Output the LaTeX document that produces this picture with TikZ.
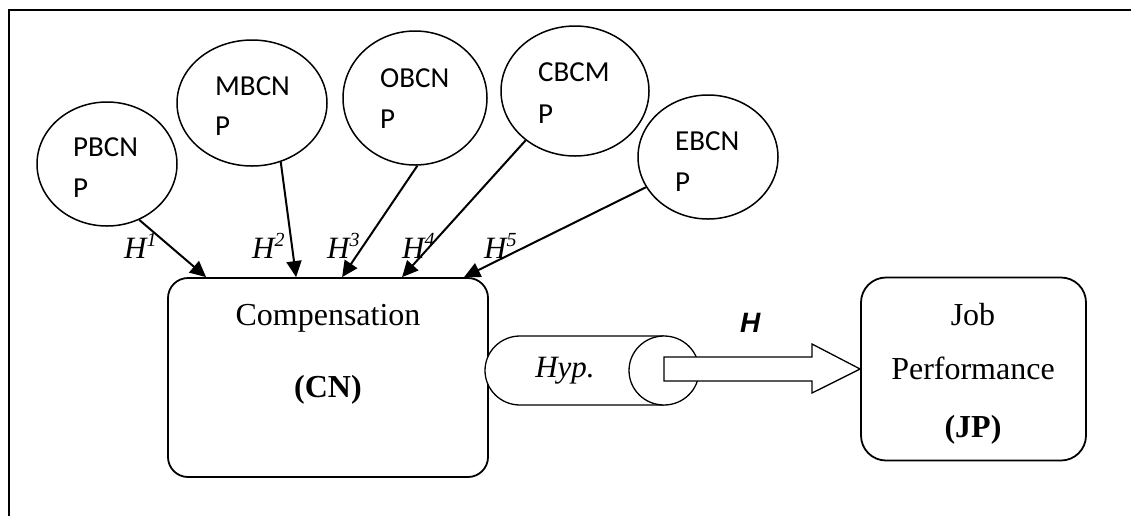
\documentclass[tikz,border=0pt]{standalone}
\usepackage{fontspec}
\setmainfont{Liberation Serif}
\newfontfamily\calib{Carlito}
\newfontfamily\arialf{Liberation Sans}
\usetikzlibrary{arrows.meta,shapes.geometric,calc}
\begin{document}
\begin{tikzpicture}[x=1pt,y=-1pt,
  bub/.style={ellipse,draw,line width=1.5pt,inner sep=0pt},
  btxt/.style={font=\calib\fontsize{29}{34}\selectfont,anchor=base west,inner sep=0pt},
  rbox/.style={rectangle,draw,line width=1.8pt,inner sep=0pt},
  stxt/.style={font=\fontsize{32}{36}\selectfont,anchor=base,inner sep=0pt},
  hlab/.style={font=\itshape\fontsize{31}{36}\selectfont,anchor=base west,inner sep=0pt},
  harr/.style={line width=2pt,-{Triangle[length=16pt,width=15pt]}}]
\useasboundingbox (0,0) rectangle (1131,515);
% frame
\draw[line width=1.8pt] (1132,10) -- (9,10) -- (9,516);
% bubbles
\node[bub,minimum width=140pt,minimum height=124pt] (pb) at (107,164) {};
\node[bub,minimum width=150pt,minimum height=126pt] (mb) at (252,103) {};
\node[bub,minimum width=144pt,minimum height=134pt] (ob) at (415,98) {};
\node[bub,minimum width=148pt,minimum height=130pt] (cb) at (575,91) {};
\node[bub,minimum width=140pt,minimum height=124pt] (eb) at (708,157) {};
\node[btxt] (pbt1) at (73,156) {PBCN};
\node[btxt] (pbt2) at (73,197) {P};
\node[btxt] (mbt1) at (215,95) {MBCN};
\node[btxt] (mbt2) at (215,135) {P};
\node[btxt] (obt1) at (380,87) {OBCN};
\node[btxt] (obt2) at (380,128) {P};
\node[btxt] (cbt1) at (538,81) {CBCM};
\node[btxt] (cbt2) at (538,123) {P};
\node[btxt] (ebt1) at (675,150) {EBCN};
\node[btxt] (ebt2) at (675,191) {P};
% boxes
\node[rbox,rounded corners=20pt,minimum width=320pt,minimum height=199pt] (cn) at (328,377.5) {};
\node[stxt] (cnt1) at (328,325) {Compensation};
\node[stxt] (cnt2) at (328,397) {\bfseries (CN)};
\node[rbox,rounded corners=25pt,minimum width=225pt,minimum height=183pt] (jp) at (973.5,369) {};
\node[stxt] (jpt1) at (973,325) {Job};
\node[stxt] (jpt2) at (973,379) {Performance};
\node[stxt] (jpt3) at (973,437) {\bfseries (JP)};
% targets on the box top
\path (cn.north west) ++(39,0) coordinate (t1);
\path (cn.north west) ++(129,0) coordinate (t2);
\path (cn.north west) ++(175,0) coordinate (t3);
\path (cn.north west) ++(235,0) coordinate (t4);
\path (cn.north west) ++(297,0) coordinate (t5);
\draw[harr] (pb.-60) -- (t1);
\draw[harr] (mb.-64) -- (t2);
\draw[harr] (ob.-88) -- (t3);
\draw[harr] (cb.-135) -- (t4);
\draw[harr] (eb.-154) -- (t5);
% H labels
\node[hlab] (h1) at (124,258) {H\raisebox{12pt}{\fontsize{20}{20}\selectfont 1}};
\node[hlab] (h2) at (252,258) {H\raisebox{12pt}{\fontsize{20}{20}\selectfont 2}};
\node[hlab] (h3) at (327,258) {H\raisebox{12pt}{\fontsize{20}{20}\selectfont 3}};
\node[hlab] (h4) at (402,258) {H\raisebox{12pt}{\fontsize{20}{20}\selectfont 4}};
\node[hlab] (h5) at (484,258) {H\raisebox{12pt}{\fontsize{20}{20}\selectfont 5}};
% cylinder
\draw[line width=1.3pt,fill=white] (664,336) -- (520,336) arc[start angle=270,end angle=90,x radius=35,y radius=34.5] -- (664,405);
\draw[line width=1.3pt,fill=white] (664,370.5) ellipse[x radius=35,y radius=34.5];
\node[font=\itshape\fontsize{31}{36}\selectfont,anchor=base,inner sep=0pt] (hyp) at (565,377) {Hyp.};
% big arrow
\draw[line width=1.3pt,fill=white,line join=miter] (664,357) -- (812,357) -- (812,344) -- (jp.west) -- (812,393) -- (812,381) -- (664,381) -- cycle;
\node[font=\arialf\bfseries\itshape\fontsize{28}{32}\selectfont,anchor=base west,inner sep=0pt] (hbig) at (740,332) {H};
\end{tikzpicture}
\end{document}
